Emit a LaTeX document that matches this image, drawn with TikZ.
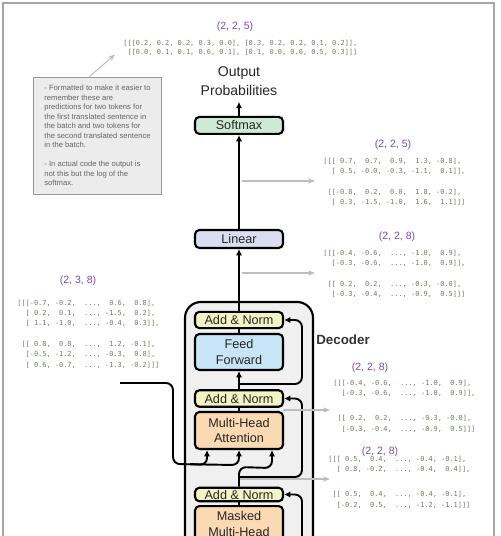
\documentclass[tikz,border=0pt]{standalone}
\usepackage{fontspec}
\setmainfont{Liberation Sans}
\setmonofont{DejaVu Sans Mono}
\usepackage{xcolor}
\usepackage{tikz}
\usetikzlibrary{arrows.meta, positioning, calc}

\definecolor{smgreen}{HTML}{CFEAD4}
\definecolor{linlilac}{HTML}{DCDCF2}
\definecolor{normyellow}{HTML}{F1F4C3}
\definecolor{ffblue}{HTML}{C7E5F6}
\definecolor{attnorange}{HTML}{FBD9B2}
\definecolor{decgray}{HTML}{F0F0F0}
\definecolor{memogray}{HTML}{ECECEC}
\definecolor{dimpurple}{HTML}{8147B0}
\definecolor{valgreen}{HTML}{6E7D63}
\definecolor{tapgray}{HTML}{BDBDBD}

\begin{document}
\begin{tikzpicture}[x=0.02cm, y=-0.02cm,
    blockbox/.style={draw, line width=1.2pt, rounded corners=2.5pt, minimum width=1.76cm, inner xsep=0pt, inner ysep=2pt, align=center, text=black!85, font=\fontsize{7.2}{9}\selectfont},
    dims/.style={text=dimpurple, font=\fontsize{6}{7}\selectfont},
    vals/.style={anchor=north west, inner sep=0pt, align=left, text=valgreen, font=\ttfamily\fontsize{3.95}{5.9}\selectfont},
    memo/.style={draw=black!40, fill=memogray, line width=0.5pt, minimum width=2.56cm, minimum height=2.34cm, align=left, text=black!60, font=\fontsize{4.35}{5.4}\selectfont},
    arr/.style={-{Latex[length=3.6pt, width=3.6pt]}, line width=1.1pt, rounded corners=4pt},
    tap/.style={-{Stealth[length=4pt, width=3pt]}, draw=tapgray, line width=0.6pt}
  ]
  \clip (0,0) rectangle (500,536);
  % frame
  \draw[black!35, line width=0.6pt] (3,3) rectangle (494,600);

  % Decoder stack
  \draw[fill=decgray, line width=1.2pt, rounded corners=9pt] (185,302) rectangle (313,620);
  \node[font=\bfseries\fontsize{7.6}{9}\selectfont, text=black!80] (declbl) at (343,340) {Decoder};

  % Layers, top to bottom
  \node[blockbox, fill=linlilac, minimum height=0.36cm] (lin) at (239,239) {Linear};
  \node[blockbox, fill=smgreen, minimum height=0.34cm, above=1.88cm of lin] (smax) {Softmax};
  \node[font=\fontsize{8}{10.8}\selectfont, align=center, text=black!85, above=0.28cm of smax] (outp) {Output\\Probabilities};
  \node[blockbox, fill=normyellow, minimum height=0.32cm] (anA) at (239,320) {Add \& Norm};
  \node[blockbox, fill=ffblue, minimum height=0.72cm] (ff) at (239,352) {Feed\\Forward};
  \node[blockbox, fill=normyellow, minimum height=0.33cm] (anB) at (239,398.5) {Add \& Norm};
  \node[blockbox, fill=attnorange, minimum height=0.74cm] (mha) at (239,430.5) {Multi-Head\\Attention};
  \node[blockbox, fill=normyellow, minimum height=0.27cm, inner ysep=1pt] (anC) at (239,494.5) {Add \& Norm};
  \node[blockbox, fill=attnorange, inner ysep=3pt, anchor=north] (mmha) at (239,505) {Masked\\Multi-Head\\Attention};

  % Main path
  \draw[arr] (smax.north) -- (outp.south);
  \draw[arr] (lin.north) -- (smax.south);
  \draw[arr] (anA.north) -- (lin.south);
  \draw[line width=1.1pt] (ff.north) -- (anA.south);
  \draw[arr] (anB.north) -- (ff.south);
  \draw[line width=1.1pt] (mha.north) -- (anB.south);
  \draw[line width=1.1pt] (mmha.north) -- (anC.south);

  % Residuals
  \coordinate (resA) at (239,384);
  \draw[arr] (resA) -- (302,384) |- (anA.east);
  \coordinate (resB) at (239,477);
  \coordinate (tapD) at (239,479);
  \draw[tap] (tapD) -- ++(91,0);
  \draw[arr] (resB) -- (302,477) |- (anB.east);
  \coordinate (resC) at (302,600);
  \draw[arr] (resC) |- (anC.east);

  % Inputs of the attention
  \coordinate (enc) at (120,383);
  \draw[arr] (enc) -- (173,383) -- (173,464) -- ($(mha.south)+(0,15)$) -- (mha.south);
  \draw[arr] (190,464) -- ($(mha.south)+(-32,15)$) -- ($(mha.south)+(-32,0)$);
  \draw[arr] (anC.north) -- (239,467) -- ($(mha.south)+(33,18)$) -- ($(mha.south)+(33,0)$);

  % Shapes
  \node[dims] (dtop) at (235,27) {(2, 2, 5)};
  \node[dims] (dsm) at (393,145) {(2, 2, 5)};
  \node[dims] (dlin) at (397,237) {(2, 2, 8)};
  \node[dims] (denc) at (78,281) {(2, 3, 8)};
  \node[dims] (dff) at (370,368) {(2, 2, 8)};
  \node[dims] (dmha) at (380,452) {(2, 2, 8)};

  % Values
  \node[vals, font=\ttfamily\fontsize{3.95}{5.1}\selectfont] (ptop) at (123,39.5) {[[[0.2,~0.2,~0.2,~0.3,~0.0],~[0.3,~0.2,~0.2,~0.1,~0.2]],\\~[[0.0,~0.1,~0.1,~0.6,~0.1],~[0.1,~0.0,~0.0,~0.5,~0.3]]]};
  \node[vals] (tsm) at (323,157.5) {[[[~0.7,~~0.7,~~0.9,~~1.3,~-0.8],\\~~[~0.5,~-0.0,~-0.3,~-1.1,~~0.1]],\\[5.9pt]~[[-0.8,~~0.2,~~0.0,~~1.8,~-0.2],\\~~[~0.3,~-1.5,~-1.0,~~1.6,~~1.1]]]};
  \node[vals] (tlin) at (323,249.5) {[[[-0.4,~-0.6,~~...,~-1.0,~~0.9],\\~~[-0.3,~-0.6,~~...,~-1.0,~~0.9]],\\[5.9pt]~[[~0.2,~~0.2,~~...,~-0.3,~-0.0],\\~~[-0.3,~-0.4,~~...,~-0.9,~~0.5]]]};
  \node[vals] (tenc) at (17,299.5) {[[[-0.7,~-0.2,~~...,~~0.6,~~0.8],\\~~[~0.2,~~0.1,~~...,~-1.5,~~0.2],\\~~[~1.1,~-1.0,~~...,~-0.4,~~0.3]],\\[5.9pt]~[[~0.8,~~0.8,~~...,~~1.2,~-0.1],\\~~[-0.5,~-1.2,~~...,~-0.3,~~0.8],\\~~[~0.6,~-0.7,~~...,~-1.3,~-0.2]]]};
  \node[vals] (tff) at (333,379.5) {[[[-0.4,~-0.6,~~...,~-1.0,~~0.9],\\~~[-0.3,~-0.6,~~...,~-1.0,~~0.9]],\\[8.5pt]~[[~0.2,~~0.2,~~...,~-0.3,~-0.0],\\~~[-0.3,~-0.4,~~...,~-0.9,~~0.5]]]};
  \node[vals] (tmha) at (328,455.5) {[[[~0.5,~~0.4,~~...,~-0.4,~-0.1],\\~~[~0.8,~-0.2,~~...,~-0.4,~~0.4]],\\[8.5pt]~[[~0.5,~~0.4,~~...,~-0.4,~-0.1],\\~~[-0.2,~~0.5,~~...,~-1.2,~-1.1]]]};

  % Taps to the values
  \coordinate (tapA) at (242,181);
  \draw[tap] (tapA) -- ++(73,0);
  \coordinate (tapB) at (242,273);
  \draw[tap] (tapB) -- ++(73,0);
  \coordinate (tapC) at (283,410);
  \draw[tap] (tapC) -- ++(47,0);

  % Remark
  \node[memo] (remark) at (97.5,135.5) {- Formatted to make it easier to\\remember these are\\predictions for two tokens for\\the first translated sentence in\\the batch and two tokens for\\the second translated sentence\\in the batch.\\[5.4pt]- In actual code the output is\\not this but the log of the\\softmax.};
  \draw[tap] ($(remark.north)+(-8,0)$) -- ($(ptop.west)+(-8,7)$);
\end{tikzpicture}
\end{document}
